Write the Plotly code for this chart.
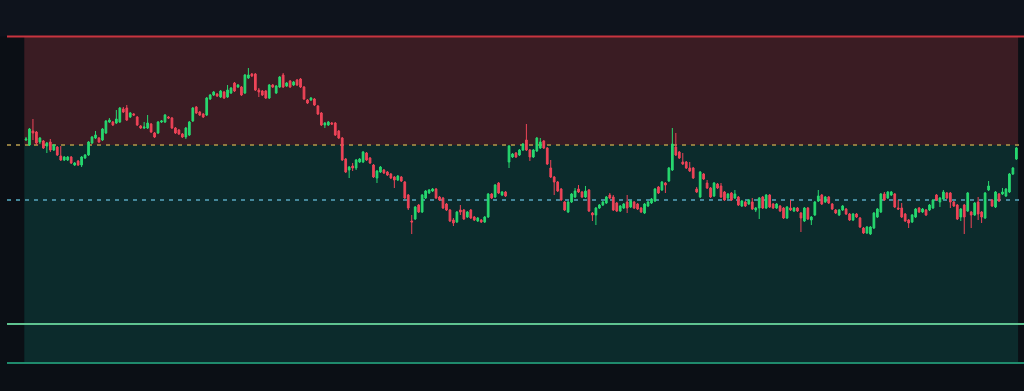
import plotly.graph_objects as go

# ---- candle data (price units; index = bar number) ----
open_ = [260,255,269,268,258,259,254,258,250,253,
         244,240,240,243,235,239,235,242,245,257,
         262,262,260,267,278,278,277,278,291,292,
         283,286,283,274,272,272,276,267,267,278,
         278,283,282,272,270,266,263,265,279,293,
         288,286,285,301,305,306,303,308,303,307,
         317,313,313,307,322,326,326,310,309,309,
         302,315,307,313,325,314,319,315,320,321,
         313,300,300,301,294,287,275,275,277,277,
         269,262,241,230,234,232,238,238,247,242,
         235,222,228,230,228,226,223,220,223,218,
         205,179,181,195,188,202,207,209,211,203,
         202,196,190,180,178,190,190,183,190,183,
         179,180,178,183,206,203,217,205,208,238,
         243,247,245,250,260,250,243,249,252,259,
         252,232,223,218,211,198,188,198,203,211,
         208,203,210,187,185,192,195,197,205,203,
         197,189,192,198,193,198,196,192,187,194,
         197,199,213,210,217,219,230,253,248,238,
         238,232,232,211,203,226,217,212,204,216,
         214,208,202,207,202,203,194,198,196,198,
         190,192,203,192,205,196,192,194,192,182,
         192,189,192,187,179,192,180,185,199,205,
         198,203,196,190,185,190,191,186,180,186,
         182,172,167,166,172,183,188,206,202,205,
         206,192,192,186,180,178,183,192,188,190,
         190,192,205,198,201,207,207,198,195,183,
         195,189,188,185,198,188,182,210,200,193,
         206,206,204,208,226,241]

high = [263,272,281,269,263,260,258,261,256,254,
        254,244,244,244,238,240,244,246,259,264,
        269,263,272,280,282,279,290,293,293,295,
        288,287,284,275,278,285,277,268,279,280,
        286,284,283,273,271,267,273,279,293,294,
        289,287,303,306,309,307,310,309,315,313,
        318,316,314,326,332,327,327,312,310,310,
        316,316,315,324,327,318,320,319,321,322,
        314,301,303,302,295,288,278,279,278,278,
        270,263,242,234,237,241,242,249,248,243,
        236,230,234,231,229,227,224,225,224,219,
        206,185,194,196,206,210,211,212,212,204,
        203,197,191,182,189,195,191,189,191,184,
        183,181,184,207,207,216,218,209,209,255,
        247,248,251,257,276,251,251,263,262,260,
        253,240,224,219,212,199,199,207,212,215,
        209,214,211,188,193,196,199,204,207,205,
        198,195,197,205,200,199,197,193,197,199,
        202,212,214,219,218,233,272,267,249,247,
        239,238,233,213,229,227,220,213,218,217,
        217,209,207,208,210,204,200,199,201,202,
        193,203,204,206,206,197,197,195,193,194,
        200,193,193,188,193,193,184,199,210,206,
        204,204,197,191,191,195,192,187,187,187,
        183,173,174,174,188,192,207,208,209,209,
        207,200,197,187,181,186,192,193,192,191,
        196,201,206,203,210,208,208,199,196,192,
        196,208,189,198,203,189,208,219,201,209,
        207,212,212,227,233,253]

low = [259,254,260,255,256,251,247,248,249,244,
       239,239,239,236,234,234,233,241,244,256,
       261,257,259,266,277,274,276,277,287,279,
       282,284,274,271,271,271,267,262,266,277,
       277,281,271,266,265,262,261,264,278,286,
       284,282,284,300,304,303,302,301,302,306,
       308,312,304,306,321,323,309,303,304,301,
       301,312,306,312,312,313,312,314,314,312,
       300,296,299,294,285,274,272,274,275,264,
       261,239,227,222,229,230,237,237,239,236,
       222,217,227,226,224,221,212,219,218,201,
       190,166,180,187,187,201,206,208,201,199,
       191,189,178,174,177,185,180,182,181,179,
       178,177,177,182,201,202,206,204,203,232,
       242,242,244,249,249,239,242,248,251,251,
       235,222,205,208,199,189,187,197,202,207,
       202,202,188,179,175,191,194,196,201,189,
       188,188,191,187,192,191,190,187,186,193,
       196,198,206,209,207,218,229,244,241,235,
       231,228,221,207,202,220,211,202,203,211,
       202,199,201,199,201,194,193,193,195,190,
       188,181,191,191,192,191,191,188,181,181,
       189,188,188,168,178,180,175,184,198,195,
       197,196,190,186,184,189,185,179,179,182,
       172,166,166,165,171,182,187,199,201,204,
       192,190,182,178,172,177,182,187,187,184,
       189,191,199,193,200,201,192,193,180,179,
       166,188,172,184,180,177,181,209,193,192,
       198,205,203,207,225,240]

close = [261,271,267,257,262,252,257,250,255,245,
         240,243,243,237,237,235,243,245,258,263,
         265,258,271,279,280,275,281,292,288,280,
         287,285,275,272,273,277,268,263,278,279,
         285,282,272,267,266,263,272,278,292,287,
         285,283,302,305,308,304,309,302,310,312,
         309,315,305,325,325,324,310,308,305,302,
         315,313,314,323,313,317,313,318,315,313,
         301,297,302,295,286,275,277,278,276,265,
         262,240,228,233,232,240,241,248,240,237,
         223,229,233,227,225,222,220,224,219,202,
         192,178,193,188,205,209,210,211,202,200,
         192,190,179,177,188,188,181,188,182,180,
         182,178,183,206,202,215,207,208,204,254,
         246,243,250,256,250,243,250,262,258,252,
         236,223,218,209,200,190,198,206,209,208,
         203,209,189,185,192,195,198,203,202,190,
         189,194,196,192,199,192,191,188,196,198,
         201,211,207,218,215,232,256,245,242,236,
         232,229,222,208,228,221,212,203,217,212,
         203,200,206,200,206,195,199,194,200,191,
         192,202,192,205,193,192,196,189,182,193,
         190,192,189,182,192,181,183,198,204,196,
         203,197,191,187,190,194,186,180,186,183,
         173,167,173,173,187,191,206,200,208,208,
         193,191,183,179,177,185,191,188,191,185,
         195,200,200,202,208,202,198,194,181,191,
         183,207,185,197,186,183,207,214,194,208,
         199,208,211,226,232,252]

bars = list(range(len(close)))

# ---- levels (price units) ----
resistance_top = 363.5      # red line
upper_band = 255            # golden dashed line
mid_line = 200              # blue dashed line
support_line = 76           # green line
base_line = 37              # bottom teal line

step = 3.475          # pixels per bar
x0_px = 26            # pixel position of first bar
x_min = -x0_px / step
x_max = (1024 - x0_px) / step
line_start = x_min + 7 / step
dash_end = x_min + 1020 / step

fig = go.Figure()
fig.add_trace(go.Candlestick(
    x=bars, open=open_, high=high, low=low, close=close,
    increasing=dict(line=dict(color="#27d86f", width=1), fillcolor="#27d86f"),
    decreasing=dict(line=dict(color="#ee4458", width=1), fillcolor="#ee4458"),
    whiskerwidth=0, showlegend=False, hoverinfo="skip",
))

x_lo = bars[0] - 0.5
x_hi = bars[-1] + 0.5
shapes = [
    # top band above resistance
    dict(type="rect", xref="x", yref="y", x0=x_min, x1=x_max, y0=resistance_top, y1=400,
         fillcolor="#0e131c", line=dict(width=0), layer="below"),
    # red zone
    dict(type="rect", xref="x", yref="y", x0=x_lo, x1=x_hi, y0=upper_band, y1=resistance_top,
         fillcolor="#3a1c23", line=dict(width=0), layer="below"),
    # green zone
    dict(type="rect", xref="x", yref="y", x0=x_lo, x1=x_hi, y0=base_line, y1=upper_band,
         fillcolor="#0c2b2c", line=dict(width=0), layer="below"),
    # lines
    dict(type="line", xref="x", yref="y", x0=line_start, x1=x_max, y0=resistance_top, y1=resistance_top,
         line=dict(color="#c8343f", width=2), layer="below"),
    dict(type="line", xref="x", yref="y", x0=line_start, x1=dash_end, y0=upper_band, y1=upper_band,
         line=dict(color="#8f7b40", width=2, dash="4px,5px"), layer="below"),
    dict(type="line", xref="x", yref="y", x0=line_start, x1=dash_end, y0=mid_line, y1=mid_line,
         line=dict(color="#44879a", width=2, dash="4px,5px"), layer="below"),
    dict(type="line", xref="x", yref="y", x0=line_start, x1=x_max, y0=support_line, y1=support_line,
         line=dict(color="#5fc390", width=2), layer="below"),
    dict(type="line", xref="x", yref="y", x0=line_start, x1=x_max, y0=base_line, y1=base_line,
         line=dict(color="#1f8a6c", width=2), layer="below"),
]

fig.update_layout(
    width=1024, height=391,
    margin=dict(l=0, r=0, t=0, b=0, pad=0),
    paper_bgcolor="#0b0f15", plot_bgcolor="#0b0f15",
    shapes=shapes,
    xaxis=dict(range=[x_min, x_max], visible=False,
               showgrid=False, zeroline=False, rangeslider=dict(visible=False), fixedrange=True),
    yaxis=dict(range=[9, 400], visible=False, showgrid=False, zeroline=False, fixedrange=True),
    showlegend=False,
)

fig.write_html("out.html")
